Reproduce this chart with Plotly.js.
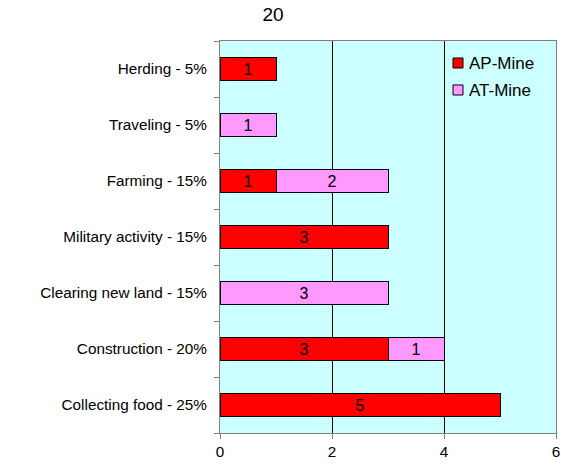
<!DOCTYPE html>
<html>
<head>
<meta charset="utf-8">
<script src="https://cdn.plot.ly/plotly-3.0.1.min.js"></script>
<style>html,body{margin:0;padding:0;background:#fff;}#chart{width:561px;height:466px;}</style>
</head>
<body>
<div id="chart"></div>
<script>
const categories = ["Collecting food - 25%", "Construction - 20%", "Clearing new land - 15%", "Military activity - 15%", "Farming - 15%", "Traveling - 5%", "Herding - 5%"];
const apMine = [5, 3, null, 3, 1, null, 1];
const atMine = [null, 1, 3, null, 2, 1, null];
const seriesNames = ["AP-Mine", "AT-Mine"];
const seriesColors = ["#ff0000", "#ff99ff"];
const xTicks = [0, 2, 4, 6];

const FAM = "Liberation Sans, Arial, sans-serif";
const font = {family: FAM, size: 15.3, color: "#000"};

const traces = [apMine, atMine].map((vals, i) => ({
  type: "bar", orientation: "h", name: seriesNames[i], y: categories, x: vals,
  marker: {color: seriesColors[i], line: {color: "#000", width: 1}},
  text: vals.map(v => v == null ? "" : String(v)), textposition: "inside", textangle: 0,
  insidetextanchor: "middle", textfont: {family: FAM, size: 16, color: "#000"},
  constraintext: "none", hoverinfo: "none", showlegend: false
}));

// legend drawn as shapes + annotations (to match the reference's compact legend)
const legendShapes = [];
const legendAnns = [];
const legRows = [[0.9566, 0.9311], [0.8878, 0.8622]];
seriesNames.forEach((n, i) => {
  legendShapes.push({type: "rect", xref: "paper", yref: "paper", x0: 0.6935, x1: 0.7232,
    y0: legRows[i][1], y1: legRows[i][0], fillcolor: seriesColors[i], line: {color: "#000", width: 1}});
  legendAnns.push({xref: "paper", yref: "paper", x: 0.735, y: (legRows[i][0] + legRows[i][1]) / 2,
    xanchor: "left", yanchor: "middle", text: n, showarrow: false,
    font: {family: FAM, size: 17, color: "#000"}});
});

const layout = {
  width: 561, height: 466,
  margin: {l: 220, r: 5, t: 41, b: 33, pad: 0},
  paper_bgcolor: "#ffffff", plot_bgcolor: "#ccffff",
  font: font,
  barmode: "stack", bargap: 0.6,
  showlegend: false,
  title: {text: "20", font: {family: FAM, size: 19, color: "#000"},
          xref: "paper", x: 0.158, xanchor: "center", yref: "container", y: 0.97, yanchor: "middle"},
  xaxis: {range: [0, 6], tickvals: xTicks, ticktext: xTicks.map(String), showgrid: true, gridcolor: "#000", gridwidth: 1,
          zeroline: false, showline: true, linecolor: "#808080", linewidth: 1, mirror: true,
          ticks: "outside", ticklen: 5, tickcolor: "#808080", tickfont: font, fixedrange: true},
  yaxis: {type: "category", categoryorder: "array", categoryarray: categories,
          showgrid: false, zeroline: false, showline: true, linecolor: "#808080", linewidth: 1, mirror: true,
          ticks: "outside", tickson: "boundaries", ticklen: 5, tickcolor: "#808080", tickfont: font,
          ticklabelstandoff: 9, fixedrange: true},
  shapes: legendShapes,
  annotations: legendAnns
};

Plotly.newPlot("chart", traces, layout, {displayModeBar: false, staticPlot: true});
</script>
</body>
</html>
